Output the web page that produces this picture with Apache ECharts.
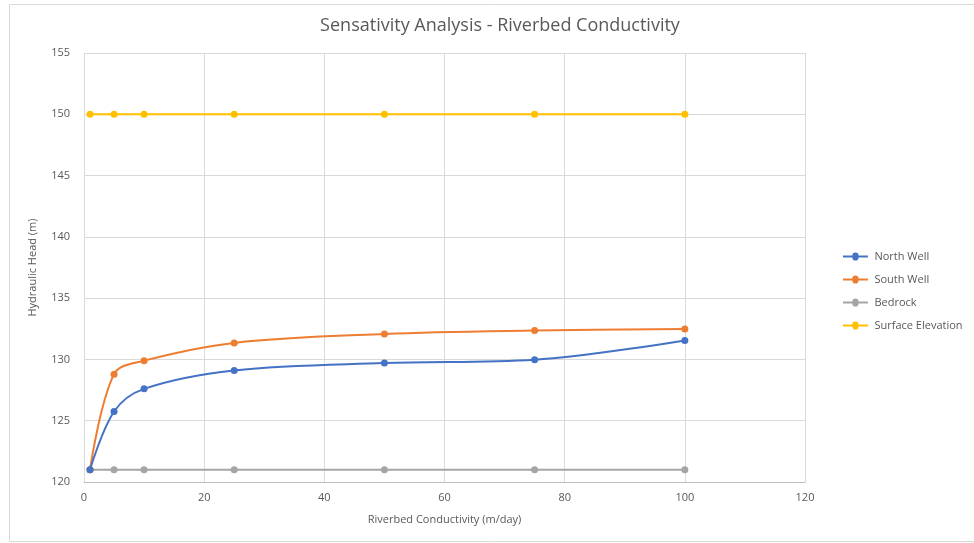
<!DOCTYPE html>
<html><head><meta charset="utf-8">
<script src="https://cdn.jsdelivr.net/npm/echarts@6/dist/echarts.min.js"></script>
<style>html,body{margin:0;padding:0;background:#fff}#c{width:974px;height:543px}</style>
</head><body><div id="c"></div>
<script>
const conductivity = [1, 5, 10, 25, 50, 75, 100];
const northWell = [121, 125.75, 127.6, 129.1, 129.7, 129.97, 131.55];
const southWell = [121, 128.8, 129.9, 131.35, 132.07, 132.35, 132.48];
const bedrock = [121, 121, 121, 121, 121, 121, 121];
const surfaceElevation = [150, 150, 150, 150, 150, 150, 150];
const seriesNames = ['North Well', 'South Well', 'Bedrock', 'Surface Elevation'];
const colors = ['#4472c4', '#ed7d31', '#a5a5a5', '#ffc000'];
const seriesData = [northWell, southWell, bedrock, surfaceElevation];

const font = 'Open Sans, Liberation Sans, sans-serif';
const legendIcon = 'path://M0,3 L10.5,3 A3.5,3.5 0 0 1 17.5,3 L28,3 L28,5 L17.5,5 A3.5,3.5 0 0 1 10.5,5 L0,5 Z M0,0.5 L0,0.5 M28,7.5 L28,7.5';
const chart = echarts.init(document.getElementById('c'), null, {renderer: 'canvas'});
chart.setOption({
  animation: false,
  backgroundColor: '#fff',
  color: colors,
  graphic: [{type: 'rect', left: 7, top: 2, shape: {width: 980, height: 537}, style: {fill: 'none', stroke: '#d9d9d9', lineWidth: 1}, silent: true}],
  title: {
    text: 'Sensativity Analysis - Riverbed Conductivity',
    left: 495, top: 12, textAlign: 'center',
    textStyle: {fontFamily: font, fontSize: 18, fontWeight: 'normal', color: '#595959'}
  },
  legend: {
    orient: 'vertical', left: 838, top: 246, itemGap: 12,
    itemWidth: 28, itemHeight: 8,
    textStyle: {fontFamily: font, fontSize: 11, color: '#595959'},
    data: seriesNames.map(n => ({name: n, icon: legendIcon}))
  },
  grid: {left: 84, right: 169, top: 53, bottom: 61},
  xAxis: {
    type: 'value', min: 0, max: 120, interval: 20,
    name: 'Riverbed Conductivity (m/day)', nameLocation: 'middle', nameGap: 32,
    nameTextStyle: {fontFamily: font, fontSize: 11, color: '#595959'},
    axisLine: {show: true, lineStyle: {color: '#bfbfbf'}},
    axisTick: {show: false},
    axisLabel: {fontFamily: font, fontSize: 11, color: '#595959', margin: 10},
    splitLine: {show: true, lineStyle: {color: '#d9d9d9'}}
  },
  yAxis: {
    type: 'value', min: 120, max: 155, interval: 5,
    name: 'Hydraulic Head (m)', nameLocation: 'middle', nameGap: 46,
    nameTextStyle: {fontFamily: font, fontSize: 11, color: '#595959'},
    axisLine: {show: false},
    axisTick: {show: false},
    axisLabel: {fontFamily: font, fontSize: 11, color: '#595959', margin: 14},
    splitLine: {show: true, lineStyle: {color: '#d9d9d9'}}
  },
  series: seriesNames.map((n, i) => ({
    name: n, type: 'line',
    data: conductivity.map((x, j) => [x, seriesData[i][j]]),
    smooth: i < 2 ? 0.35 : false,
    symbol: 'circle', symbolSize: 7,
    lineStyle: {width: 2, color: colors[i]},
    itemStyle: {color: colors[i]},
    z: 10 - i
  }))
});
</script></body></html>
